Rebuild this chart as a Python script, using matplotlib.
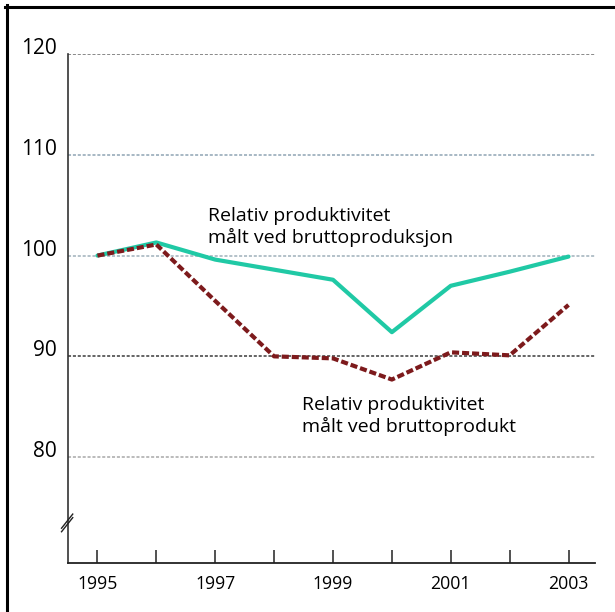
import numpy as np
import matplotlib
matplotlib.use("Agg")
import matplotlib.pyplot as plt
from matplotlib.lines import Line2D

plt.rcParams['font.family'] = ['Open Sans', 'DejaVu Sans']

# values (index, 1995 = 100)
years = [1995, 1996, 1997, 1998, 1999, 2000, 2001, 2002, 2003]
brutto_produksjon = [100, 101.3, 99.6, 98.6, 97.6, 92.4, 97.0, 98.4, 99.9]
brutto_produkt = [100, 101.1, 95.5, 90.0, 89.8, 87.7, 90.4, 90.1, 95.1]

y_ticks = [80, 90, 100, 110, 120]
x_labels = [str(y) if y % 2 == 1 else "" for y in years]

label_produksjon = "Relativ produktivitet\nmålt ved bruttoproduksjon"
label_produkt = "Relativ produktivitet\nmålt ved bruttoprodukt"

fig = plt.figure(figsize=(6.15, 6.12), dpi=100)
ax = fig.add_axes([0.1106, 0.0801, 0.9675 - 0.1106, 0.9118 - 0.0801])

# gridlines, each a bit different like the original
grid_cols = {80: '#a8a8a8', 90: '#3a3a3a', 100: '#9fb0ba', 110: '#8fa4b4', 120: '#6a6a6a'}
for v in y_ticks:
    ax.axhline(v, color=grid_cols[v], lw=1.1, ls=(0, (2, 1.2)), zorder=1)

ax.plot(years, brutto_produksjon, color='#20c9a5', lw=3.0, solid_capstyle='round',
        solid_joinstyle='round', zorder=3)
ax.plot(years, brutto_produkt, color='#7d1a1c', lw=3.0, ls=(0, (1.7, 0.7)), zorder=3)

ax.set_xlim(1994.5, 2003.45)
ax.set_ylim(69.5, 120)

ax.set_xticks(years)
ax.set_xticklabels(x_labels)
ax.set_yticks(y_ticks)
ax.set_yticklabels([str(v) for v in y_ticks])
for lab in ax.get_yticklabels():
    lab.set_verticalalignment('baseline')

ax.tick_params(axis='x', direction='in', length=9.5, width=1.1, color='#222222',
               pad=9, labelsize=12.7)
ax.tick_params(axis='y', length=0, pad=8, labelsize=15)

for s in ['top', 'right']:
    ax.spines[s].set_visible(False)
ax.spines['left'].set_bounds(69.5, 120)
ax.spines['left'].set_color('#333333')
ax.spines['left'].set_linewidth(1.2)
ax.spines['bottom'].set_color('#222222')
ax.spines['bottom'].set_linewidth(1.3)

# axis break mark
for dy in [0, 0.35]:
    ax.plot([1994.39, 1994.58], [72.6 + dy, 74.0 + dy], color='#222222', lw=1.0,
            clip_on=False, zorder=4)

ax.text(1996.88, 101.29, label_produksjon, fontsize=14, va='baseline', ha='left',
        linespacing=1.2)
ax.text(1998.48, 82.54, label_produkt, fontsize=14, va='baseline', ha='left',
        linespacing=1.2)

# frame on left and top of the picture
fig.add_artist(Line2D([6.5 / 615, 6.5 / 615], [0, 1 - 5 / 612], transform=fig.transFigure,
                      color='black', lw=2.2))
fig.add_artist(Line2D([5 / 615, 1], [1 - 7 / 612, 1 - 7 / 612], transform=fig.transFigure,
                      color='black', lw=2.2))

fig.savefig("out.png", dpi=100)
